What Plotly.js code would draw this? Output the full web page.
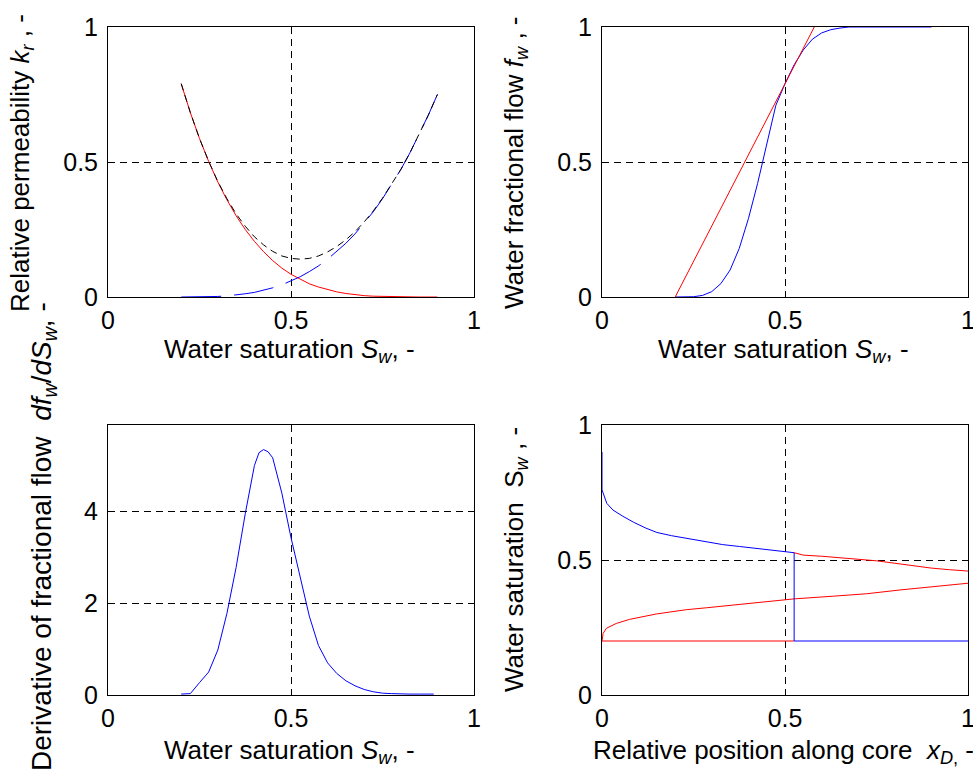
<!DOCTYPE html>
<html>
<head>
<meta charset="utf-8">
<script src="https://cdn.plot.ly/plotly-3.0.1.min.js"></script>
<style>
  html, body { margin: 0; padding: 0; background: #ffffff; }
  #plot { width: 973px; height: 780px; }
</style>
</head>
<body>
<div id="plot"></div>
<script>
// ---------- Data ----------
// Panel 1: relative permeability vs water saturation
const swKr = [0.2, 0.225, 0.25, 0.275, 0.3, 0.325, 0.35, 0.375, 0.4, 0.425, 0.45, 0.475, 0.5, 0.525, 0.55, 0.575, 0.6, 0.625, 0.65, 0.675, 0.7, 0.725, 0.75, 0.775, 0.8, 0.825, 0.85, 0.875, 0.9];
const kro = [0.790, 0.683, 0.587, 0.502, 0.426, 0.360, 0.301, 0.250, 0.206, 0.168, 0.135, 0.107, 0.084, 0.065, 0.049, 0.037, 0.027, 0.019, 0.013, 0.008, 0.005, 0.003, 0.002, 0.001, 0.000, 0, 0, 0, 0];
const krw = [0, 0.000, 0.000, 0.001, 0.002, 0.004, 0.007, 0.012, 0.017, 0.025, 0.034, 0.045, 0.059, 0.075, 0.094, 0.115, 0.140, 0.168, 0.199, 0.234, 0.273, 0.316, 0.364, 0.416, 0.472, 0.534, 0.601, 0.673, 0.750];
const krTotal = [0.790, 0.683, 0.587, 0.503, 0.428, 0.364, 0.308, 0.262, 0.223, 0.193, 0.169, 0.152, 0.143, 0.140, 0.143, 0.152, 0.167, 0.187, 0.212, 0.242, 0.278, 0.319, 0.366, 0.417, 0.472, 0.534, 0.601, 0.673, 0.750];

// Panel 2: fractional flow and Welge tangent
const swFw = [0.2, 0.225, 0.25, 0.275, 0.3, 0.325, 0.35, 0.375, 0.4, 0.425, 0.45, 0.475, 0.5, 0.525, 0.55, 0.575, 0.6, 0.625, 0.65, 0.675, 0.7, 0.725, 0.75, 0.775, 0.8, 0.825, 0.85, 0.875, 0.9];
const fw = [0, 0, 0.001, 0.006, 0.02, 0.05, 0.10, 0.18, 0.29, 0.42, 0.57, 0.71, 0.79, 0.86, 0.915, 0.955, 0.978, 0.99, 0.996, 1, 1, 1, 1, 1, 1, 1, 1, 1, 1];
const tangentSw = [0.2, 0.58];
const tangentFw = [0, 1];

// Panel 3: derivative of fractional flow
const swDeriv = [0.2, 0.225, 0.25, 0.275, 0.3, 0.325, 0.35, 0.375, 0.4, 0.4125, 0.425, 0.4375, 0.45, 0.475, 0.5, 0.525, 0.55, 0.575, 0.6, 0.625, 0.65, 0.675, 0.7, 0.725, 0.75, 0.775, 0.8, 0.825, 0.85, 0.875, 0.89];
const dfw = [0.02, 0.03, 0.27, 0.50, 0.98, 1.78, 2.78, 3.95, 5.0, 5.28, 5.35, 5.30, 5.17, 4.4, 3.43, 2.6, 1.72, 1.08, 0.70, 0.47, 0.31, 0.20, 0.12, 0.07, 0.04, 0.03, 0.02, 0.02, 0.02, 0.02, 0.02];
const dfwMax = 5.35;

// Panel 4: saturation profile along the core
const xdProfile = [0, 0, 0.013, 0.03, 0.057, 0.086, 0.12, 0.15, 0.19, 0.24, 0.285, 0.33, 0.376, 0.42, 0.45, 0.497, 0.525, 0.525, 1];
const swProfile = [0.9, 0.76, 0.71, 0.685, 0.662, 0.64, 0.618, 0.602, 0.59, 0.578, 0.566, 0.557, 0.55, 0.543, 0.538, 0.533, 0.527, 0.2, 0.2];
const xdUpper = [0.525, 0.55, 0.6, 0.65, 0.7, 0.75, 0.8, 0.85, 0.9, 0.95, 1.0];
const swUpper = [0.527, 0.518, 0.514, 0.509, 0.504, 0.497, 0.488, 0.479, 0.47, 0.464, 0.459];
const xdLower = [0, 0.001, 0.003, 0.012, 0.039, 0.075, 0.112, 0.148, 0.194, 0.231, 0.285, 0.359, 0.45, 0.525, 0.632, 0.723, 0.814, 0.905, 1.0];
const swLower = [0.2, 0.215, 0.228, 0.247, 0.265, 0.28, 0.29, 0.30, 0.309, 0.316, 0.323, 0.333, 0.346, 0.356, 0.366, 0.375, 0.389, 0.401, 0.414];
const xdInitial = [0, 0.525];
const swInitial = [0.2, 0.2];

const unitTicks = [0, 0.5, 1];
const unitTickText = ['0', '0.5', '1'];
const derivTicks = [0, 2, 4];
const derivTickText = ['0', '2', '4'];

// ---------- Styling ----------
const FONT = 'Liberation Sans, Arial, Helvetica, sans-serif';
const TICK_SIZE = 25, TITLE_SIZE = 26;
const RED = '#ff0000', BLUE = '#0000ff', BLACK = '#000000';
const W = 973, H = 780;
const px = v => v / W;
const py = v => 1 - v / H;

const colL = [px(108), px(474)];
const colR = [px(602), px(968)];
const rowT = [py(297), py(27)];
const rowB = [py(695), py(425)];

function axisBase(domain, range, tickvals, ticktext, extra) {
  return Object.assign({
    domain: domain,
    range: range,
    tickmode: 'array',
    tickvals: tickvals,
    ticktext: ticktext,
    showgrid: true,
    gridcolor: BLACK,
    gridwidth: 1,
    griddash: '7px,5px',
    zeroline: false,
    showline: true,
    linecolor: BLACK,
    linewidth: 1,
    mirror: true,
    ticks: '',
    ticklabeloverflow: 'allow',
    tickfont: { family: FONT, size: TICK_SIZE, color: BLACK },
    automargin: false,
    fixedrange: true
  }, extra || {});
}

function line(x, y, xa, ya, color, dash) {
  return {
    x: x, y: y, xaxis: xa, yaxis: ya, type: 'scatter', mode: 'lines',
    line: { color: color, width: 1, dash: dash || 'solid' },
    hoverinfo: 'skip', showlegend: false
  };
}

const traces = [
  // Panel 1
  line(swKr, kro, 'x', 'y', RED),
  line(swKr, krw, 'x', 'y', BLUE, '40px,13px'),
  line(swKr, krTotal, 'x', 'y', BLACK, '7px,5px'),
  // Panel 2
  line(swFw, fw, 'x2', 'y2', BLUE),
  line(tangentSw, tangentFw, 'x2', 'y2', RED),
  // Panel 3
  line(swDeriv, dfw, 'x3', 'y3', BLUE),
  // Panel 4
  line(xdInitial, swInitial, 'x4', 'y4', RED),
  line(xdLower, swLower, 'x4', 'y4', RED),
  line(xdUpper, swUpper, 'x4', 'y4', RED),
  line(xdProfile, swProfile, 'x4', 'y4', BLUE)
];

function ann(text, xPix, yPix, angle, size) {
  return {
    text: text, xref: 'paper', yref: 'paper',
    x: px(xPix), y: py(yPix), xanchor: 'center', yanchor: 'middle',
    textangle: angle || 0, showarrow: false,
    font: { family: FONT, size: size || TITLE_SIZE, color: BLACK }
  };
}

const xTitleSw = 'Water saturation <i>S</i><sub><i>w</i></sub>, -';

const layout = {
  width: W, height: H,
  margin: { l: 0, r: 0, t: 0, b: 0, pad: 0 },
  paper_bgcolor: '#ffffff',
  plot_bgcolor: '#ffffff',
  font: { family: FONT, size: TICK_SIZE, color: BLACK },
  showlegend: false,
  xaxis:  axisBase(colL, [0, 1], unitTicks, unitTickText, { anchor: 'y',  ticklabelstandoff: 1 }),
  yaxis:  axisBase(rowT, [0, 1], unitTicks, unitTickText, { anchor: 'x',  ticklabelstandoff: 4 }),
  xaxis2: axisBase(colR, [0, 1], unitTicks, unitTickText, { anchor: 'y2', ticklabelstandoff: 1 }),
  yaxis2: axisBase(rowT, [0, 1], unitTicks, unitTickText, { anchor: 'x2', ticklabelstandoff: 4 }),
  xaxis3: axisBase(colL, [0, 1], unitTicks, unitTickText, { anchor: 'y3', ticklabelstandoff: 1 }),
  yaxis3: axisBase(rowB, [0, dfwMax * 1.1], derivTicks, derivTickText, { anchor: 'x3', ticklabelstandoff: 4 }),
  xaxis4: axisBase(colR, [0, 1], unitTicks, unitTickText, { anchor: 'y4', ticklabelstandoff: 1 }),
  yaxis4: axisBase(rowB, [0, 1], unitTicks, unitTickText, { anchor: 'x4', ticklabelstandoff: 4 }),
  annotations: [
    ann(xTitleSw, 289, 351),
    ann(xTitleSw, 783, 351),
    ann(xTitleSw, 289, 751),
    ann('Relative position along core  <i>x</i><sub><i>D</i>,</sub> -', 783, 751),
    ann('Relative permeability <i>k</i><sub><i>r</i></sub> , -', 21, 163, -90),
    ann('Water fractional flow <i>f</i><sub><i>w</i></sub> , -', 515, 163, -90),
    ann('Derivative of fractional flow  <i>df</i><sub><i>w</i></sub>/<i>dS</i><sub><i>w</i></sub>, -', 43, 537, -90, 28),
    ann('Water saturation  S<sub><i>w</i></sub> , -', 515, 560, -90)
  ]
};

Plotly.newPlot('plot', traces, layout, { staticPlot: true, displayModeBar: false });
</script>
</body>
</html>
